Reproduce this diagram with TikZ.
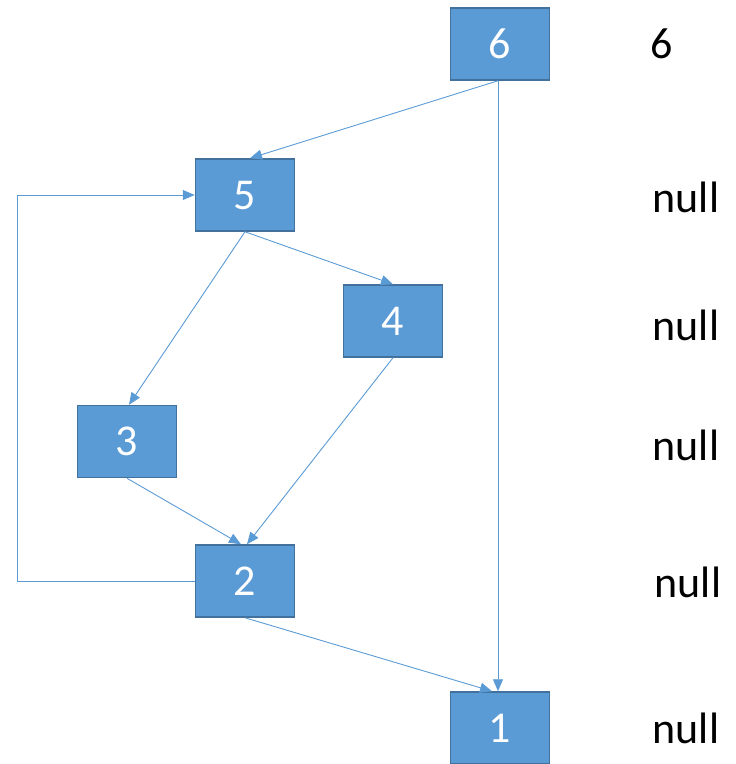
\documentclass[tikz,border=0pt]{standalone}
\usepackage{fontspec}
\setmainfont{Carlito}
\usetikzlibrary{arrows.meta,calc}
\definecolor{boxfill}{HTML}{5B9BD5}
\definecolor{boxline}{HTML}{41719C}
\definecolor{edge}{HTML}{5B9BD5}
\begin{document}
\begin{tikzpicture}[x=1pt,y=-1pt,
  vbox/.style={draw=boxline,line width=1.5pt,fill=boxfill,minimum width=99pt,minimum height=72pt,inner sep=0pt,text=white,font=\fontsize{44}{48}\selectfont,text depth=0pt},
  lab/.style={anchor=base,font=\fontsize{44}{48}\selectfont,text=black},
  conn/.style={draw=edge,line width=0.9pt,-{Triangle[length=12pt,width=10pt]}}]
\useasboundingbox (0,0) rectangle (736,764);
\node[vbox] (n6) at (500,44) {6};
\node[vbox] (n5) at (245,195) {5};
\node[vbox] (n4) at (393,321) {4};
\node[vbox] (n3) at (127,441.5) {3};
\node[vbox] (n2) at (245,581) {2};
\node[vbox] (n1) at (500,728) {1};
\node[lab] (l6) at (662,58) {6};
\node[lab] (l5) at (686,212) {null};
\node[lab] (l4) at (686,340) {null};
\node[lab] (l3) at (686,460) {null};
\node[lab] (l2) at (688,597) {null};
\node[lab] (l1) at (686,743) {null};
\draw[conn] ($(n6.south)+(-2,0)$) -- ($(n5.north)+(5,0)$);
\draw[conn] ($(n6.south)+(-2,0)$) -- ($(n1.north)+(-2,0)$);
\draw[conn] (n5.south) -- (n4.north);
\draw[conn] (n5.south) -- ($(n3.north)+(2,0)$);
\draw[conn] (n4.south) -- ($(n2.north)+(2,0)$);
\draw[conn] (n3.south) -- ($(n2.north)+(-4,0)$);
\coordinate (c1) at (17,581);
\coordinate (c2) at (17,195);
\draw[conn] (n2.west) -- (c1) -- (c2) -- (n5.west);
\draw[conn] (n2.south) -- ($(n1.north)+(-8,0)$);
\end{tikzpicture}
\end{document}
